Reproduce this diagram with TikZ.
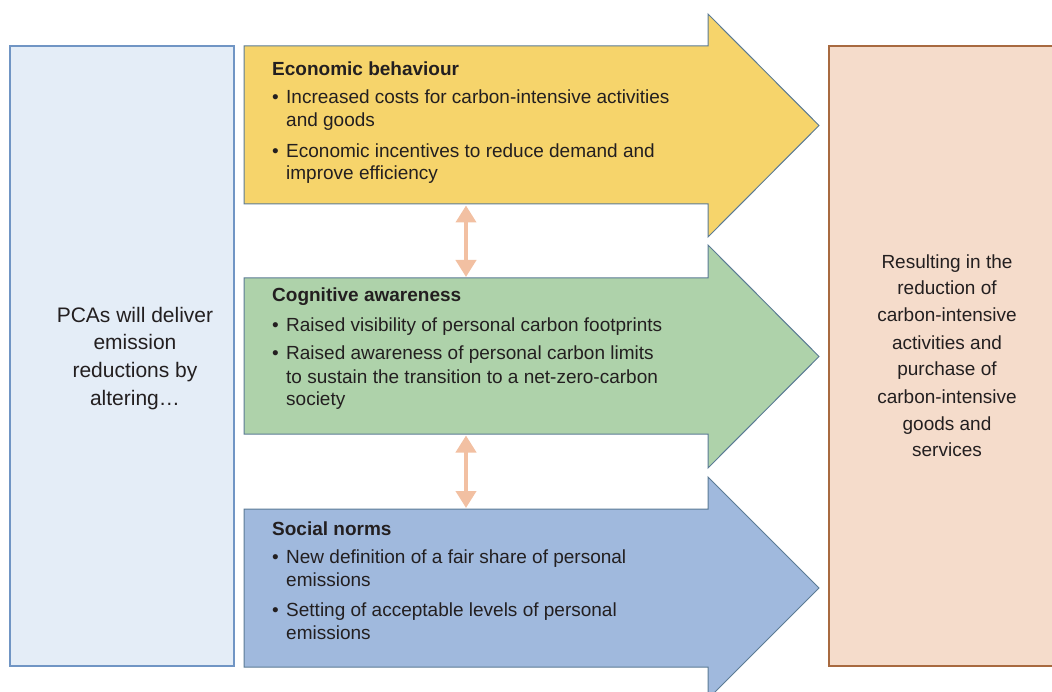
\documentclass[tikz,border=0pt]{standalone}
\usepackage{fontspec}
\setmainfont{Liberation Sans}
\usetikzlibrary{arrows.meta}
\definecolor{txt}{HTML}{231F20}
\definecolor{leftfill}{HTML}{E4EDF7}
\definecolor{leftdraw}{HTML}{7095C4}
\definecolor{rightfill}{HTML}{F5DCCB}
\definecolor{rightdraw}{HTML}{A86A40}
\definecolor{yel}{HTML}{F6D46B}
\definecolor{grn}{HTML}{AED2AA}
\definecolor{blu}{HTML}{A0B9DD}
\definecolor{arrdraw}{HTML}{5B7B95}
\definecolor{salmon}{HTML}{F2C0A2}
\begin{document}
\begin{tikzpicture}[x=1pt,y=-1pt,
  line/.style={inner sep=0pt, anchor=base west, text=txt, font=\fontsize{19}{23}\selectfont},
  ttl/.style={line, font=\fontsize{19}{23}\selectfont\bfseries},
  cline/.style={inner sep=0pt, anchor=base, text=txt, font=\fontsize{19}{23}\selectfont},
  lline/.style={cline, font=\fontsize{21}{27}\selectfont},
  bigarrow/.style={draw=arrdraw, line width=1pt, line join=miter},
  box/.style={line width=1.3pt},
  link/.style={draw=salmon, line width=4pt, {Triangle[width=20pt,length=17pt]}-{Triangle[width=20pt,length=17pt]}, shorten <=0pt, shorten >=0pt}
]
\useasboundingbox (0,0) rectangle (1052,692);
\clip (0,0) rectangle (1052,692);

% left box
\path[box, fill=leftfill, draw=leftdraw] (10,46) rectangle (234,666);
% right box
\path[box, fill=rightfill, draw=rightdraw] (829,46) rectangle (1065,666);

% big arrows
\path[bigarrow, fill=yel] (244,46) -- (708,46) -- (708,14) -- (819,125.5) -- (708,237) -- (708,204) -- (244,204) -- cycle;
\path[bigarrow, fill=grn] (244,278) -- (708,278) -- (708,245) -- (819,356.5) -- (708,468) -- (708,434) -- (244,434) -- cycle;
\path[bigarrow, fill=blu] (244,509) -- (708,509) -- (708,477) -- (819,588) -- (708,699) -- (708,667) -- (244,667) -- cycle;

% double arrows
\coordinate (ybot) at (466,205.5);
\coordinate (gtop) at (466,277);
\coordinate (gbot) at (466,435.5);
\coordinate (btop) at (466,508);
\draw[link] (ybot) -- (gtop);
\draw[link] (gbot) -- (btop);

% yellow text
\node[ttl] (yt) at (272,75.7) {Economic behaviour};
\node[line] (yb1) at (272,103.3) {•};
\node[line] (y1) at (286,103.3) {Increased costs for carbon-intensive activities};
\node[line] (y2) at (286,126.7) {and goods};
\node[line] (yb2) at (272,157.3) {•};
\node[line] (y3) at (286,157.3) {Economic incentives to reduce demand and};
\node[line] (y4) at (286,180) {improve efficiency};

% green text
\node[ttl] (gt) at (272,301.7) {Cognitive awareness};
\node[line] (gb1) at (272,331.7) {•};
\node[line] (g1) at (286,331.7) {Raised visibility of personal carbon footprints};
\node[line] (gb2) at (272,360) {•};
\node[line] (g2) at (286,360) {Raised awareness of personal carbon limits};
\node[line] (g3) at (286,383.3) {to sustain the transition to a net-zero-carbon};
\node[line] (g4) at (286,406) {society};

% blue text
\node[ttl] (bt) at (272,535) {Social norms};
\node[line] (bb1) at (272,563.3) {•};
\node[line] (b1) at (286,563.3) {New definition of a fair share of personal};
\node[line] (b2) at (286,586) {emissions};
\node[line] (bb2) at (272,616) {•};
\node[line] (b3) at (286,616) {Setting of acceptable levels of personal};
\node[line] (b4) at (286,639) {emissions};

% left text
\node[lline] (l1) at (135,322.3) {PCAs will deliver};
\node[lline] (l2) at (135,350) {emission};
\node[lline] (l3) at (135,377.7) {reductions by};
\node[lline] (l4) at (135,405.3) {altering…};

% right text
\node[cline] (r1) at (947,268.3) {Resulting in the};
\node[cline] (r2) at (947,295) {reduction of};
\node[cline] (r3) at (947,321.7) {carbon-intensive};
\node[cline] (r4) at (947,349.3) {activities and};
\node[cline] (r5) at (947,376) {purchase of};
\node[cline] (r6) at (947,403.3) {carbon-intensive};
\node[cline] (r7) at (947,430) {goods and};
\node[cline] (r8) at (947,456.5) {services};
\end{tikzpicture}
\end{document}
